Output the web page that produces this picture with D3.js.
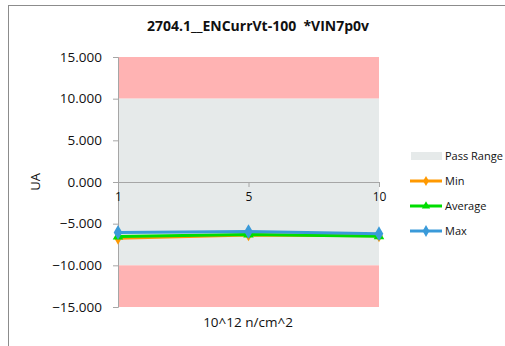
<!DOCTYPE html>
<html><head><meta charset="utf-8">
<script src="https://cdn.jsdelivr.net/npm/d3@7"></script>
<style>body{margin:0;background:#fff}svg{display:block;font-family:"Open Sans",sans-serif}text{white-space:pre}</style>
</head><body>
<svg id="c" width="505" height="346"></svg>
<script>
const categories = ["1", "5", "10"];
const minVals = [-6.75, -6.35, -6.45];
const avgVals = [-6.55, -6.3, -6.5];
const maxVals = [-6.05, -5.95, -6.2];
const yTicks = [15, 10, 5, 0, -5, -10, -15];
const passLow = -10, passHigh = 10, yMin = -15, yMax = 15;
const FONT = "'Open Sans',sans-serif";

const svg = d3.select("#c");
svg.append("rect").attr("x", 8.5).attr("y", 5.5).attr("width", 510).attr("height", 360)
  .attr("fill", "#fff").attr("stroke", "#8c8c8c");

const L = 118, R = 379, T = 57, B = 307;
const x = d3.scalePoint().domain(categories).range([L, R]);
const y = d3.scaleLinear().domain([yMin, yMax]).range([B, T]);

svg.append("rect").attr("x", L).attr("width", R - L).attr("y", y(yMax)).attr("height", y(passHigh) - y(yMax)).attr("fill", "#ffb3b3");
svg.append("rect").attr("x", L).attr("width", R - L).attr("y", y(passHigh)).attr("height", y(passLow) - y(passHigh)).attr("fill", "#e6eaea");
svg.append("rect").attr("x", L).attr("width", R - L).attr("y", y(passLow)).attr("height", y(yMin) - y(passLow)).attr("fill", "#ffb3b3");

const ya = svg.append("g").attr("transform", `translate(${L},0)`)
  .call(d3.axisLeft(y).tickValues(yTicks).tickFormat(d3.format(".3f")).tickSize(5).tickPadding(11));
ya.select(".domain").attr("stroke", "#a6a6a6");
ya.selectAll(".tick line").attr("stroke", "#a6a6a6");
ya.selectAll("text").attr("font-size", 13.5).attr("fill", "#111").style("font-family", FONT);

const xa = svg.append("g").attr("transform", `translate(0,${y(0)})`)
  .call(d3.axisBottom(x).tickSize(5).tickPadding(5));
xa.select(".domain").attr("stroke", "#a6a6a6");
xa.selectAll(".tick line").attr("stroke", "#a6a6a6");
xa.selectAll("text").attr("font-size", 12).attr("fill", "#111").style("font-family", FONT);

const series = [
  {name: "Min", vals: minVals, color: "#ff9900", sym: d3.symbolDiamond, size: 30},
  {name: "Average", vals: avgVals, color: "#00dd00", sym: d3.symbolTriangle, size: 30},
  {name: "Max", vals: maxVals, color: "#3a9ad9", sym: d3.symbolDiamond, size: 40}
];
const line = d3.line().x((d, i) => x(categories[i])).y(d => y(d));
series.forEach(s => {
  svg.append("path").datum(s.vals).attr("d", line).attr("fill", "none").attr("stroke", s.color).attr("stroke-width", 3);
  svg.selectAll(null).data(s.vals).enter().append("path")
    .attr("d", d3.symbol().type(s.sym).size(s.size * 1.6))
    .attr("transform", (d, i) => `translate(${x(categories[i])},${y(d)})`)
    .attr("fill", s.color);
});

svg.append("text").attr("x", 258).attr("y", 31).attr("text-anchor", "middle").style("font-family", FONT)
  .attr("font-size", 14).attr("font-weight", "bold").attr("fill", "#111").text("2704.1__ENCurrVt-100  *VIN7p0v");
svg.append("text").attr("transform", "translate(40,182) rotate(-90)").attr("text-anchor", "middle").style("font-family", FONT)
  .attr("font-size", 13).attr("fill", "#111").text("UA");
svg.append("text").attr("x", 248).attr("y", 327).attr("text-anchor", "middle").style("font-family", FONT)
  .attr("font-size", 13.5).attr("fill", "#111").text("10^12 n/cm^2");

const lg = svg.append("g").style("font-family", FONT);
lg.append("rect").attr("x", 411).attr("y", 152).attr("width", 31).attr("height", 8).attr("fill", "#e6eaea");
lg.append("text").attr("x", 445).attr("y", 160).attr("font-size", 11).attr("fill", "#111").text("Pass Range");
series.forEach((s, i) => {
  const yy = 181 + i * 25;
  lg.append("line").attr("x1", 410).attr("x2", 442).attr("y1", yy).attr("y2", yy).attr("stroke", s.color).attr("stroke-width", 3);
  lg.append("path").attr("d", d3.symbol().type(s.sym).size(s.size)).attr("transform", `translate(426,${yy})`).attr("fill", s.color);
  lg.append("text").attr("x", 445).attr("y", yy + 4).attr("font-size", 11).attr("fill", "#111").text(s.name);
});
</script>
</body></html>
